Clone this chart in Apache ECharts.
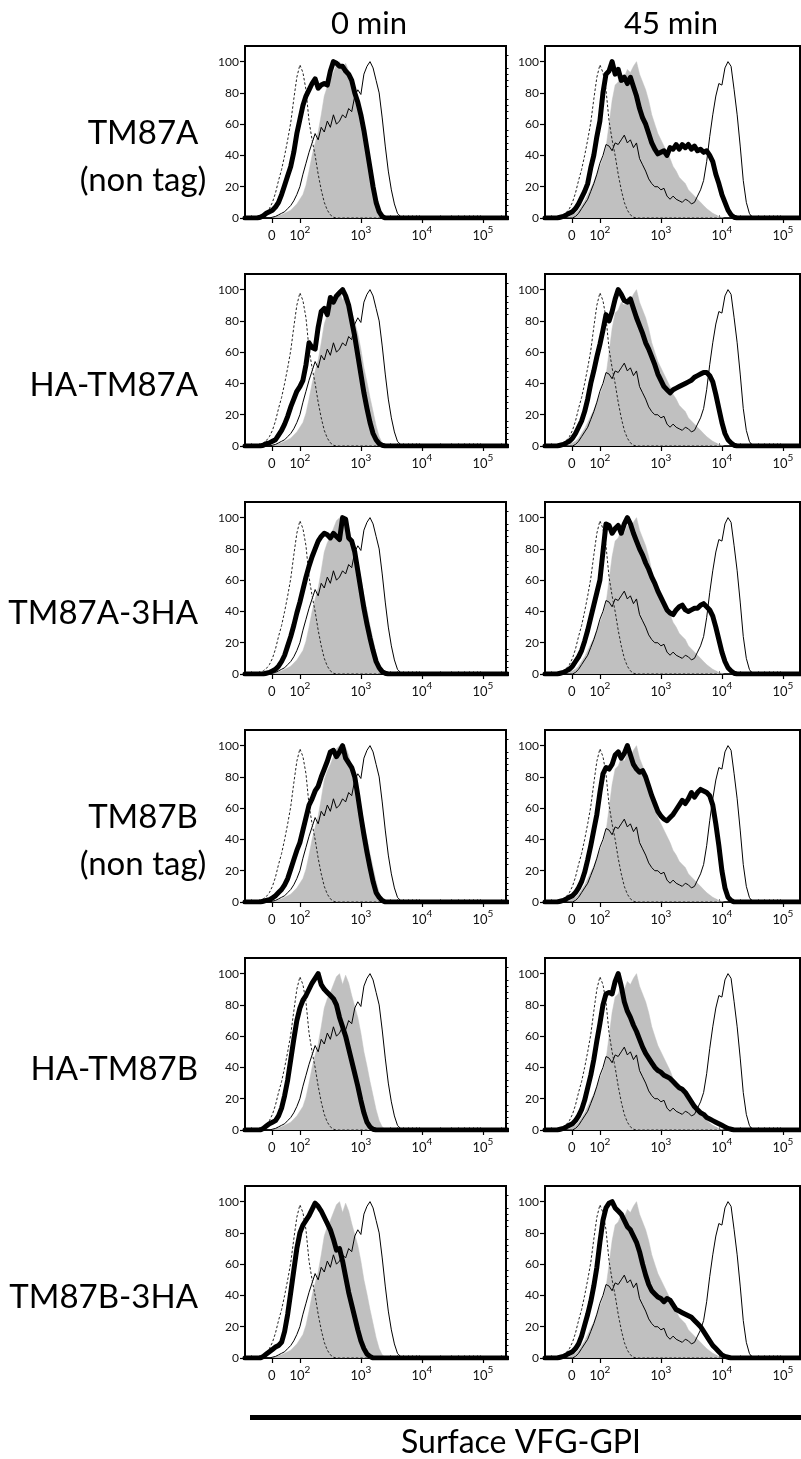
<!DOCTYPE html>
<html>
<head>
<meta charset="utf-8">
<script src="https://cdn.jsdelivr.net/npm/echarts@6/dist/echarts.min.js"></script>
<style>
  html, body { margin: 0; background: #fff; }
  #chart { width: 801px; height: 1459px; }
</style>
</head>
<body>
<div id="chart"></div>
<script>
// x positions are in display decades (10^2 -> 2, 10^3 -> 3 ...), "0" sits at 1.54
const xs = [
  1.10,
  1.20, 1.25, 1.30, 1.35, 1.40, 1.45, 1.50, 1.55, 1.60, 1.65,
  1.70, 1.75, 1.80, 1.85, 1.90, 1.95, 2.00, 2.05, 2.10, 2.15,
  2.20, 2.25, 2.30, 2.35, 2.40, 2.45, 2.50, 2.55, 2.60, 2.65,
  2.70, 2.75, 2.80, 2.85, 2.90, 2.95, 3.00, 3.05, 3.10, 3.15,
  3.20, 3.25, 3.30, 3.35, 3.40, 3.45, 3.50, 3.55, 3.60, 3.65,
  3.70, 3.75, 3.80, 3.85, 3.90, 3.95, 4.00, 4.05, 4.10, 4.15,
  4.20, 4.25, 4.30, 4.35, 4.40, 4.45, 4.50, 4.55, 4.60,
  5.40
];

// controls (same in every row)
const ctrlDashed = [
  0,
  0, 0, 0.5, 1, 2, 3.5, 6, 10, 16, 24,
  31, 40, 50, 61, 76, 90, 98, 93, 82, 62,
  50, 40, 28, 18, 10, 5, 2, 0.5, 0, 0,
  0, 0, 0, 0, 0, 0, 0, 0, 0, 0,
  0, 0, 0, 0, 0, 0, 0, 0, 0, 0,
  0, 0, 0, 0, 0, 0, 0, 0, 0, 0,
  0, 0, 0, 0, 0, 0, 0, 0, 0,
  0
];
const grayLeft = [
  0,
  0, 0, 0, 0, 0, 0, 0, 0.5, 1, 1.5,
  2, 3, 4, 5, 7, 9, 12, 15, 21, 30,
  40, 48, 55, 66, 78, 84, 88, 93, 98, 100,
  93, 99, 94, 86, 79, 72, 62, 50, 41, 31,
  22, 13, 6, 2, 0.5, 0, 0, 0, 0, 0,
  0, 0, 0, 0, 0, 0, 0, 0, 0, 0,
  0, 0, 0, 0, 0, 0, 0, 0, 0,
  0
];
const thinLeft = [
  0,
  0, 0, 0, 0, 0, 0, 0, 0.5, 1, 2,
  3, 4, 6, 8, 11, 15, 20, 28, 35, 42,
  48, 54, 50, 58, 55, 62, 58, 66, 60, 62,
  66, 64, 70, 68, 78, 82, 79, 92, 97, 100,
  96, 88, 80, 64, 46, 30, 18, 9, 3, 1,
  0, 0, 0, 0, 0, 0, 0, 0, 0, 0,
  0, 0, 0, 0, 0, 0, 0, 0, 0,
  0
];
const grayRight = [
  0,
  0, 0, 0, 0, 0, 0, 1, 2, 3, 5,
  8, 11, 15, 19, 23, 28, 33, 38, 45, 60,
  75, 85, 87, 92, 90, 95, 93, 97, 100, 92,
  87, 82, 75, 66, 60, 54, 50, 46, 42, 38,
  33, 30, 26, 24, 22, 18, 16, 14, 12, 10,
  8, 6, 4.5, 3, 2, 1, 0.5, 0, 0, 0,
  0, 0, 0, 0, 0, 0, 0, 0, 0,
  0
];
const thinRight = [
  0,
  0, 0, 0, 0, 0, 0, 0, 0, 1, 3,
  6, 9, 12, 17, 22, 28, 35, 40, 47, 46,
  43, 48, 47, 50, 53, 48, 50, 45, 48, 38,
  34, 30, 25, 22, 20, 20, 18, 19, 14, 12,
  14, 12, 11, 10, 12, 11, 9, 10, 14, 18,
  24, 36, 52, 66, 78, 86, 85, 96, 100, 97,
  82, 66, 46, 24, 10, 3, 0, 0, 0,
  0
];

// samples (thick line), 0 min and 45 min
const tm87aNonTag0 = [
  0,
  0, 0, 0, 0.5, 1.5, 3, 4, 5, 7, 10,
  15, 21, 27, 33, 42, 54, 63, 72, 78, 82,
  86, 89, 83, 85, 86, 85, 94, 100, 99, 97,
  97, 94, 92, 88, 80, 74, 66, 56, 44, 32,
  20, 10, 4, 1, 0, 0, 0, 0, 0, 0,
  0, 0, 0, 0, 0, 0, 0, 0, 0, 0,
  0, 0, 0, 0, 0, 0, 0, 0, 0,
  0
];
const tm87aNonTag45 = [
  0,
  0, 0, 0, 0.5, 1, 2, 3, 4, 6, 9,
  13, 17, 22, 32, 40, 52, 62, 80, 92, 94,
  100, 92, 95, 88, 90, 86, 90, 84, 78, 70,
  64, 60, 54, 48, 44, 41, 42, 43, 40, 45,
  44, 47, 44, 47, 45, 47, 44, 46, 43, 44,
  42, 43, 40, 36, 28, 22, 15, 10, 5, 2,
  0.5, 0, 0, 0, 0, 0, 0, 0, 0,
  0
];
const haTm87a0 = [
  0,
  0, 0, 0, 0, 0.5, 1.5, 2, 3, 4, 7,
  10, 14, 19, 25, 30, 35, 38, 42, 52, 66,
  63, 62, 76, 86, 88, 84, 95, 92, 96, 98,
  100, 96, 90, 80, 70, 58, 46, 34, 24, 15,
  8, 4, 1.5, 0.5, 0, 0, 0, 0, 0, 0,
  0, 0, 0, 0, 0, 0, 0, 0, 0, 0,
  0, 0, 0, 0, 0, 0, 0, 0, 0,
  0
];
const haTm87a45 = [
  0,
  0, 0, 0, 0.5, 1, 2, 3, 5, 8, 12,
  16, 22, 30, 40, 48, 57, 65, 74, 84, 80,
  86, 94, 100, 97, 93, 92, 94, 88, 82, 77,
  72, 66, 62, 57, 52, 46, 42, 38, 36, 34,
  36, 37, 38, 39, 40, 41, 42, 44, 45, 46,
  47, 47, 45, 41, 33, 24, 15, 8, 4, 2,
  0.5, 0, 0, 0, 0, 0, 0, 0, 0,
  0
];
const tm87a3ha0 = [
  0,
  0, 0, 0, 0, 0, 0.5, 1, 2, 3, 5,
  8, 12, 18, 24, 31, 39, 46, 54, 62, 69,
  75, 80, 85, 88, 90, 89, 87, 90, 88, 86,
  100, 99, 87, 85, 78, 66, 54, 42, 32, 23,
  15, 8, 4, 1.5, 0.5, 0, 0, 0, 0, 0,
  0, 0, 0, 0, 0, 0, 0, 0, 0, 0,
  0, 0, 0, 0, 0, 0, 0, 0, 0,
  0
];
const tm87a3ha45 = [
  0,
  0, 0, 0, 0.5, 1, 2, 3, 5, 8, 11,
  15, 21, 28, 36, 44, 52, 60, 78, 96, 95,
  90, 93, 95, 90, 96, 100, 96, 90, 85, 80,
  76, 71, 67, 62, 58, 53, 49, 45, 41, 39,
  38, 41, 43, 44, 41, 40, 41, 42, 42, 44,
  45, 43, 41, 37, 30, 22, 14, 8, 4, 2,
  0.5, 0, 0, 0, 0, 0, 0, 0, 0,
  0
];
const tm87bNonTag0 = [
  0,
  0, 0, 0, 0, 0.5, 1, 1.5, 2.5, 4, 6,
  8, 11, 15, 21, 27, 33, 38, 46, 54, 62,
  66, 71, 74, 80, 85, 90, 96, 97, 93, 96,
  100, 92, 89, 86, 80, 68, 55, 43, 32, 22,
  13, 6, 3, 1, 0, 0, 0, 0, 0, 0,
  0, 0, 0, 0, 0, 0, 0, 0, 0, 0,
  0, 0, 0, 0, 0, 0, 0, 0, 0,
  0
];
const tm87bNonTag45 = [
  0,
  0, 0, 0, 0.5, 1, 2, 3, 4, 6, 9,
  13, 19, 27, 36, 46, 56, 70, 82, 86, 85,
  88, 94, 96, 92, 95, 100, 94, 88, 85, 83,
  84, 80, 74, 68, 63, 58, 55, 53, 52, 54,
  56, 59, 62, 65, 63, 66, 70, 67, 70, 72,
  71, 70, 68, 62, 50, 36, 20, 9, 3, 1,
  0, 0, 0, 0, 0, 0, 0, 0, 0,
  0
];
const haTm87b0 = [
  0,
  0, 0, 0, 0, 1, 2.5, 4, 5, 6, 9,
  14, 22, 32, 45, 58, 70, 78, 83, 86, 90,
  94, 97, 100, 93, 90, 88, 86, 84, 80, 72,
  66, 60, 52, 44, 36, 28, 19, 11, 5, 2,
  0.5, 0, 0, 0, 0, 0, 0, 0, 0, 0,
  0, 0, 0, 0, 0, 0, 0, 0, 0, 0,
  0, 0, 0, 0, 0, 0, 0, 0, 0,
  0
];
const haTm87b45 = [
  0,
  0, 0, 0, 0.5, 1, 2, 3, 4, 6, 9,
  13, 19, 27, 35, 45, 57, 68, 80, 87, 88,
  87, 95, 100, 92, 82, 76, 72, 67, 63, 58,
  53, 49, 46, 43, 40, 38, 37, 35, 34, 33,
  31, 29, 27, 26, 24, 21, 18, 15, 13, 11,
  10, 8, 7, 6, 5, 4, 3, 2, 1, 0.5,
  0, 0, 0, 0, 0, 0, 0, 0, 0,
  0
];
const tm87b3ha0 = [
  0,
  0, 0, 0, 0, 1, 2.5, 4, 5.5, 7, 8,
  10, 17, 28, 42, 56, 70, 80, 85, 88, 91,
  95, 99, 97, 94, 90, 86, 82, 76, 69, 70,
  62, 52, 42, 34, 26, 18, 11, 6, 2.5, 1,
  0, 0, 0, 0, 0, 0, 0, 0, 0, 0,
  0, 0, 0, 0, 0, 0, 0, 0, 0, 0,
  0, 0, 0, 0, 0, 0, 0, 0, 0,
  0
];
const tm87b3ha45 = [
  0,
  0, 0, 0, 0.5, 1, 2, 3, 4, 6, 9,
  14, 21, 28, 36, 46, 58, 74, 88, 96, 99,
  100, 96, 94, 92, 88, 84, 82, 78, 74, 68,
  60, 53, 47, 43, 41, 39, 38, 36, 38, 37,
  34, 31, 30, 29, 28, 27, 26, 24, 22, 20,
  17, 14, 11, 8, 6, 4, 2, 1, 0.5, 0,
  0, 0, 0, 0, 0, 0, 0, 0, 0,
  0
];

const rowLabels = ['TM87A\n(non tag)', 'HA-TM87A', 'TM87A-3HA', 'TM87B\n(non tag)', 'HA-TM87B', 'TM87B-3HA'];
const colTitles = ['0 min', '45 min'];
const samples = [
  [tm87aNonTag0, tm87aNonTag45],
  [haTm87a0, haTm87a45],
  [tm87a3ha0, tm87a3ha45],
  [tm87bNonTag0, tm87bNonTag45],
  [haTm87b0, haTm87b45],
  [tm87b3ha0, tm87b3ha45]
];
const controls = [
  { gray: grayLeft, thin: thinLeft, dashed: ctrlDashed },
  { gray: grayRight, thin: thinRight, dashed: ctrlDashed }
];

const xTickPos = [1.54, 2, 3, 4, 5];
const xTickLabels = ['0', '10^2', '10^3', '10^4', '10^5'];
const xLinearMinor = [1.21, 1.33, 1.70, 1.78, 1.86, 1.93];
const yTicks = [0, 20, 40, 60, 80, 100];
const xAxisLabel = 'Surface VFG-GPI';

const FONT = 'Lato, "Open Sans", sans-serif';
const X_MIN = 1.10;
const Y_MAX = 110;

// log minor ticks for the decades
const xLogMinor = [];
[2, 3, 4, 5].forEach(d => {
    for (let k = 2; k <= 9; k++) xLogMinor.push(d + Math.log10(k));
});
const yMinor = [];
for (let v = 4; v <= 104; v += 4) if (v % 20 !== 0) yMinor.push(v);

const colLeft = [245, 545];
const colWidth = [261, 255];
const colMax = [5.38, 5.28];
const rowTop = 46, rowStep = 228, panelH = 172;

const chart = echarts.init(document.getElementById('chart'));

const grids = [], xAxes = [], yAxes = [], series = [], graphics = [];

function pairs(ys) {
    return xs.map((x, i) => [x, ys[i]]);
}

function labelFor(v) {
    const i = xTickPos.findIndex(p => Math.abs(p - v) < 1e-6);
    const s = i < 0 ? '' : xTickLabels[i];
    const parts = s.split('^');
    return parts.length > 1 ? `{b|${parts[0]}}{e|${parts[1]}}` : `{b|${s}}`;
}

samples.forEach((rowData, r) => {
    rowData.forEach((thick, c) => {
        const g = grids.length;
        grids.push({
            left: colLeft[c],
            top: rowTop + r * rowStep,
            width: colWidth[c],
            height: panelH,
            show: true,
            borderColor: '#000',
            borderWidth: 2,
            backgroundColor: '#fff'
        });

        // main x axis with labels
        xAxes.push({
            type: 'value', gridIndex: g, min: X_MIN, max: colMax[c],
            axisLine: { show: true, lineStyle: { color: '#000', width: 2 } },
            axisTick: { show: true, customValues: xTickPos, length: 5, lineStyle: { color: '#000', width: 1.2 } },
            axisLabel: {
                show: true, customValues: xTickPos, margin: 7,
                formatter: labelFor,
                rich: {
                    b: { fontSize: 13, fontFamily: FONT, color: '#111', lineHeight: 22 },
                    e: { fontSize: 10, fontFamily: FONT, color: '#111', lineHeight: 10, verticalAlign: 'top' }
                }
            },
            splitLine: { show: false }
        });
        // minor ticks
        xAxes.push({
            type: 'value', gridIndex: g, min: X_MIN, max: colMax[c],
            axisLine: { show: false },
            axisTick: { show: true, customValues: xLinearMinor.concat(xLogMinor), length: 2.5, lineStyle: { color: '#000', width: 1 } },
            axisLabel: { show: false },
            splitLine: { show: false }
        });

        yAxes.push({
            type: 'value', gridIndex: g, min: 0, max: Y_MAX,
            axisLine: { show: true, lineStyle: { color: '#000', width: 2 } },
            axisTick: { show: true, customValues: yTicks, length: 5, lineStyle: { color: '#000', width: 1.2 } },
            axisLabel: { show: true, customValues: yTicks, fontSize: 12, fontFamily: FONT, color: '#111', margin: 6 },
            splitLine: { show: false }
        });
        yAxes.push({
            type: 'value', gridIndex: g, min: 0, max: Y_MAX,
            axisLine: { show: false },
            axisTick: { show: true, customValues: yMinor, length: 2.5, lineStyle: { color: '#000', width: 1 } },
            axisLabel: { show: false },
            splitLine: { show: false }
        });

        const xi = g * 2, yi = g * 2;
        const ctrl = controls[c];
        series.push({
            type: 'line', xAxisIndex: xi, yAxisIndex: yi, data: pairs(ctrl.gray),
            showSymbol: false, z: 1,
            lineStyle: { width: 0.5, color: '#c0c0c0' },
            areaStyle: { color: '#c0c0c0', opacity: 1 }
        });
        series.push({
            type: 'line', xAxisIndex: xi, yAxisIndex: yi, data: pairs(ctrl.thin),
            showSymbol: false, z: 2,
            lineStyle: { width: 1, color: '#000' }
        });
        series.push({
            type: 'line', xAxisIndex: xi, yAxisIndex: yi, data: pairs(ctrl.dashed),
            showSymbol: false, z: 3,
            lineStyle: { width: 1, color: '#222', type: [2.5, 2] }
        });
        series.push({
            type: 'line', xAxisIndex: xi, yAxisIndex: yi, data: pairs(thick),
            showSymbol: false, z: 4,
            lineStyle: { width: 5, color: '#000', join: 'round', cap: 'round' }
        });
    });

    const labelY = rowTop + r * rowStep + 111;
    const twoLines = rowLabels[r].indexOf('\n') >= 0;
    graphics.push({
        type: 'text',
        x: twoLines ? 143 : 198,
        y: labelY,
        style: {
            text: rowLabels[r],
            font: `33px ${FONT}`,
            fill: '#000',
            align: twoLines ? 'center' : 'right',
            verticalAlign: 'middle',
            lineHeight: 47
        }
    });
});

colTitles.forEach((t, c) => {
    graphics.push({
        type: 'text',
        x: c === 0 ? 369 : 671,
        y: 24,
        style: { text: t, font: `31px ${FONT}`, fill: '#000', align: 'center', verticalAlign: 'middle' }
    });
});

graphics.push({
    type: 'rect',
    shape: { x: 250, y: 1415, width: 551, height: 5 },
    style: { fill: '#000' }
});
graphics.push({
    type: 'text',
    x: 521, y: 1443,
    style: { text: xAxisLabel, font: `32px ${FONT}`, fill: '#000', align: 'center', verticalAlign: 'middle' }
});

chart.setOption({
    animation: false,
    backgroundColor: '#fff',
    grid: grids,
    xAxis: xAxes,
    yAxis: yAxes,
    series: series,
    graphic: graphics
});
</script>
</body>
</html>
